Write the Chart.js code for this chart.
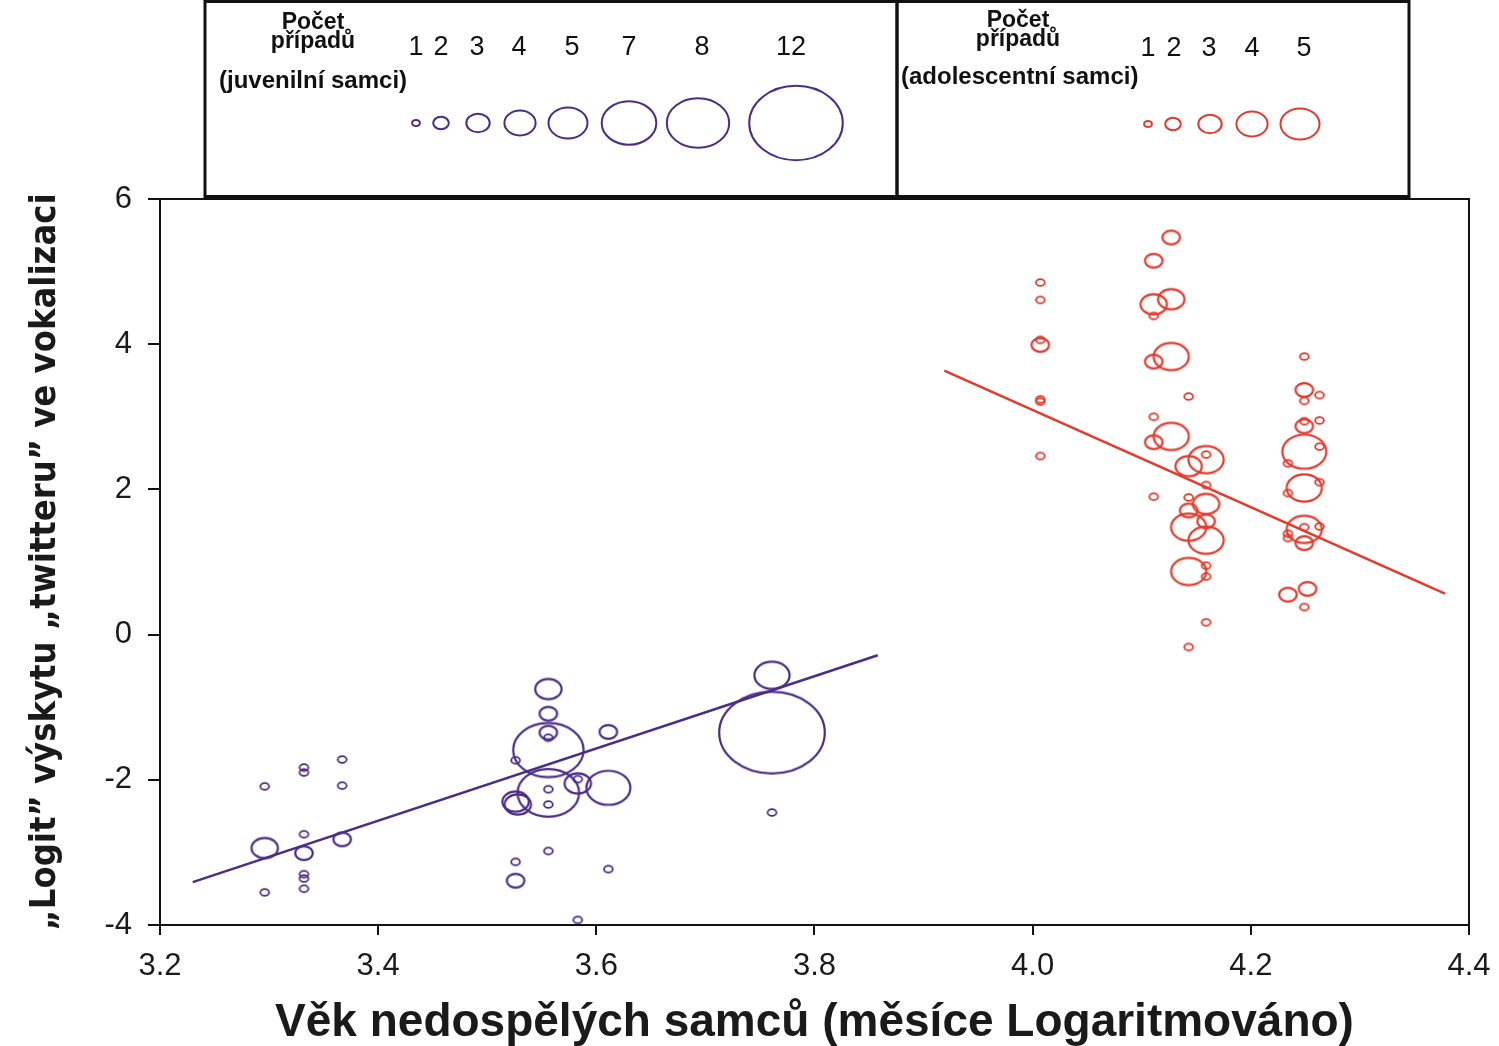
<!DOCTYPE html>
<html><head><meta charset="utf-8">
<script src="https://cdn.jsdelivr.net/npm/chart.js@4"></script>
<style>html,body{margin:0;padding:0;background:#fff}#wrap{width:1499px;height:1046px;position:relative}</style>
</head><body><div id="wrap"><canvas id="c" width="1499" height="1046"></canvas></div>
<script>
// ---------- data ----------
const juvX = [3.296,3.332,3.332,3.367,3.367,3.296,3.332,3.332,3.332,3.332,3.332,3.296,3.367,
              3.556,3.556,3.556,3.556,3.556,3.526,3.556,3.556,3.556,3.526,3.528,3.583,3.583,3.611,3.611,
              3.761,3.761,3.761,3.556,3.526,3.526,3.611,3.583];
const juvY = [-2.09,-1.83,-1.90,-1.72,-2.08,-2.94,-2.75,-3.01,-3.30,-3.36,-3.50,-3.55,-2.82,
              -0.75,-1.09,-1.35,-1.42,-1.59,-1.73,-2.18,-2.13,-2.34,-2.30,-2.34,-2.05,-1.99,-2.11,-1.34,
              -1.35,-0.56,-2.45,-2.98,-3.13,-3.39,-3.23,-3.93];
const juvN = [1,1,1,1,1,3,1,2,1,1,1,1,2,
              3,2,2,1,8,1,7,1,1,3,3,3,1,5,2,
              12,4,1,1,1,2,1,1];

const adoX = [4.127,4.111,4.007,4.007,4.111,4.127,4.111,4.007,4.007,4.127,4.111,4.007,4.007,4.143,4.111,
              4.127,4.111,4.007,4.159,4.159,4.143,4.159,4.111,4.143,4.159,4.143,4.159,4.143,4.159,4.159,
              4.159,4.143,4.159,4.143,
              4.249,4.249,4.263,4.249,4.249,4.263,4.249,4.249,4.263,4.234,4.249,4.263,4.234,4.249,4.249,
              4.263,4.234,4.234,4.249,4.234,4.252,4.249];
const adoY = [5.47,5.15,4.85,4.61,4.55,4.62,4.39,3.99,4.06,3.83,3.76,3.24,3.21,3.28,3.00,
              2.73,2.65,2.46,2.41,2.48,2.32,2.06,1.90,1.89,1.80,1.71,1.56,1.48,1.30,0.95,
              0.80,0.87,0.17,-0.17,
              3.83,3.37,3.30,3.22,2.94,2.95,2.87,2.52,2.59,2.36,2.02,2.10,1.95,1.45,1.48,
              1.49,1.39,1.33,1.26,0.55,0.63,0.38];
const adoN = [2,2,1,1,3,3,1,2,1,4,2,1,1,1,1,
              4,2,1,4,1,3,1,1,1,3,2,2,4,4,1,
              1,4,1,1,
              1,2,1,1,1,1,2,5,1,1,4,1,1,4,1,
              1,1,1,2,2,2,1];

const juvLineX = [3.230, 3.858];
const juvLineY = [-3.41, -0.285];
const adoLineX = [3.919, 4.378];
const adoLineY = [3.636, 0.565];

const xTicks = [3.2, 3.4, 3.6, 3.8, 4.0, 4.2, 4.4];
const yTicks = [-4, -2, 0, 2, 4, 6];

const legendJuvCounts = [1, 2, 3, 4, 5, 7, 8, 12];
const legendAdoCounts = [1, 2, 3, 4, 5];

const xTitle = 'Věk nedospělých samců (měsíce Logaritmováno)';
const yTitle = '„Logit” výskytu „twitteru” ve vokalizaci';

// ---------- styles ----------
const PURPLE = '#4b2c86';
const RED = '#e4392b';
const RXK = 4.4, RYK = 3.4;
const SANS = '"Liberation Sans", Arial, sans-serif';

const imgCache = {};
function ellipseImg(n, color) {
  const key = n + color;
  if (imgCache[key]) return imgCache[key];
  const rx = RXK * n, ry = RYK * n, lw = n === 1 ? 1.8 : 2.2;
  const w = Math.ceil(2 * rx + lw + 4), h = Math.ceil(2 * ry + lw + 4);
  const cv = document.createElement('canvas');
  cv.width = w; cv.height = h;
  const c = cv.getContext('2d');
  c.strokeStyle = color; c.lineWidth = lw;
  c.beginPath(); c.ellipse(w / 2, h / 2, rx, ry, 0, 0, Math.PI * 2); c.stroke();
  imgCache[key] = cv;
  return cv;
}

function bubbles(xs, ys, ns) {
  return xs.map((x, i) => ({ x: x, y: ys[i], r: ns[i] * 3.8, n: ns[i] }));
}
function pts(xs, ys) { return xs.map((x, i) => ({ x: x, y: ys[i] })); }

const framePlugin = {
  id: 'frame',
  afterDraw(chart) {
    const { ctx, chartArea: a } = chart;
    ctx.save();
    ctx.strokeStyle = '#111'; ctx.lineWidth = 2;
    ctx.strokeRect(a.left, a.top, a.right - a.left, a.bottom - a.top);
    // legend boxes
    ctx.lineWidth = 3;
    ctx.strokeRect(205, 1.5, 692, 195);
    ctx.strokeRect(897, 1.5, 512, 195);
    ctx.fillStyle = '#111';
    ctx.textAlign = 'center'; ctx.textBaseline = 'middle';
    ctx.font = 'bold 23px ' + SANS;
    ctx.fillText('Počet', 313, 23);
    ctx.fillText('případů', 313, 42);
    ctx.fillText('Počet', 1018, 21);
    ctx.fillText('případů', 1018, 40);
    ctx.textAlign = 'left';
    ctx.font = 'bold 24px ' + SANS;
    ctx.fillText('(juvenilní samci)', 219, 81);
    ctx.fillText('(adolescentní samci)', 901, 77);
    ctx.textAlign = 'center';
    ctx.font = '27px ' + SANS;
    const juvNumX = [416, 441, 477, 519, 572, 629, 702, 791];
    const juvCircX = [416, 441, 478, 520, 568, 629, 698, 796];
    legendJuvCounts.forEach((n, i) => {
      ctx.fillStyle = '#111';
      ctx.fillText(String(n), juvNumX[i], 48);
      ctx.strokeStyle = PURPLE; ctx.lineWidth = 2;
      ctx.beginPath(); ctx.ellipse(juvCircX[i], 123, 3.9 * n, 3.1 * n, 0, 0, Math.PI * 2); ctx.stroke();
    });
    const adoNumX = [1148, 1174, 1209, 1252, 1304];
    const adoCircX = [1148, 1173, 1210, 1252, 1300];
    legendAdoCounts.forEach((n, i) => {
      ctx.fillStyle = '#111';
      ctx.fillText(String(n), adoNumX[i], 49);
      ctx.strokeStyle = RED; ctx.lineWidth = 2;
      ctx.beginPath(); ctx.ellipse(adoCircX[i], 124, 3.9 * n, 3.1 * n, 0, 0, Math.PI * 2); ctx.stroke();
    });
    ctx.restore();
  }
};

new Chart(document.getElementById('c'), {
  type: 'bubble',
  data: {
    datasets: [
      { label: 'juvenilní samci', data: bubbles(juvX, juvY, juvN),
        pointStyle: (ctx) => ellipseImg(ctx.raw.n, PURPLE),
        borderColor: PURPLE, backgroundColor: 'transparent', clip: false },
      { label: 'adolescentní samci', data: bubbles(adoX, adoY, adoN),
        pointStyle: (ctx) => ellipseImg(ctx.raw.n, RED),
        borderColor: RED, backgroundColor: 'transparent', clip: false },
      { type: 'line', label: 'juv fit', data: pts(juvLineX, juvLineY),
        borderColor: PURPLE, borderWidth: 2.5, pointRadius: 0, fill: false },
      { type: 'line', label: 'ado fit', data: pts(adoLineX, adoLineY),
        borderColor: RED, borderWidth: 2.5, pointRadius: 0, fill: false }
    ]
  },
  options: {
    responsive: false, animation: false, devicePixelRatio: 1,
    layout: { autoPadding: false, padding: { top: 199, right: 30, left: 0, bottom: 0 } },
    plugins: { legend: { display: false }, tooltip: { enabled: false } },
    scales: {
      x: {
        type: 'linear', min: 3.2, max: 4.4,
        afterBuildTicks: (s) => { s.ticks = xTicks.map(v => ({ value: v })); },
        afterFit: (s) => { s.height = 121; s.paddingLeft = 0; s.paddingRight = 0; },
        ticks: { callback: (v) => Number(v).toFixed(1), font: { size: 31, family: SANS },
                 color: '#1a1a1a', padding: 13, maxRotation: 0, autoSkip: false },
        grid: { drawOnChartArea: false, tickLength: 10, color: '#111', lineWidth: 2 },
        border: { color: '#111', width: 2 },
        title: { display: true, text: xTitle, color: '#1a1a1a',
                 font: { size: 46, weight: 'bold', family: SANS, lineHeight: 1 },
                 padding: { top: 0, bottom: 0 } }
      },
      y: {
        type: 'linear', min: -4, max: 6,
        afterBuildTicks: (s) => { s.ticks = yTicks.map(v => ({ value: v })); },
        afterFit: (s) => { s.width = 160; s.paddingTop = 0; s.paddingBottom = 0; },
        ticks: { font: { size: 31, family: SANS },
                 color: '#1a1a1a', padding: 16, autoSkip: false },
        grid: { drawOnChartArea: false, tickLength: 12, color: '#111', lineWidth: 2 },
        border: { color: '#111', width: 2 },
        title: { display: true, text: yTitle, color: '#1a1a1a',
                 font: { size: 36, weight: 'bold', family: '"Liberation Sans Narrow", "DejaVu Sans Condensed", "Arial Narrow", sans-serif' },
                 padding: { top: 24, bottom: 0 } }
      }
    }
  },
  plugins: [framePlugin]
});
</script></body></html>
